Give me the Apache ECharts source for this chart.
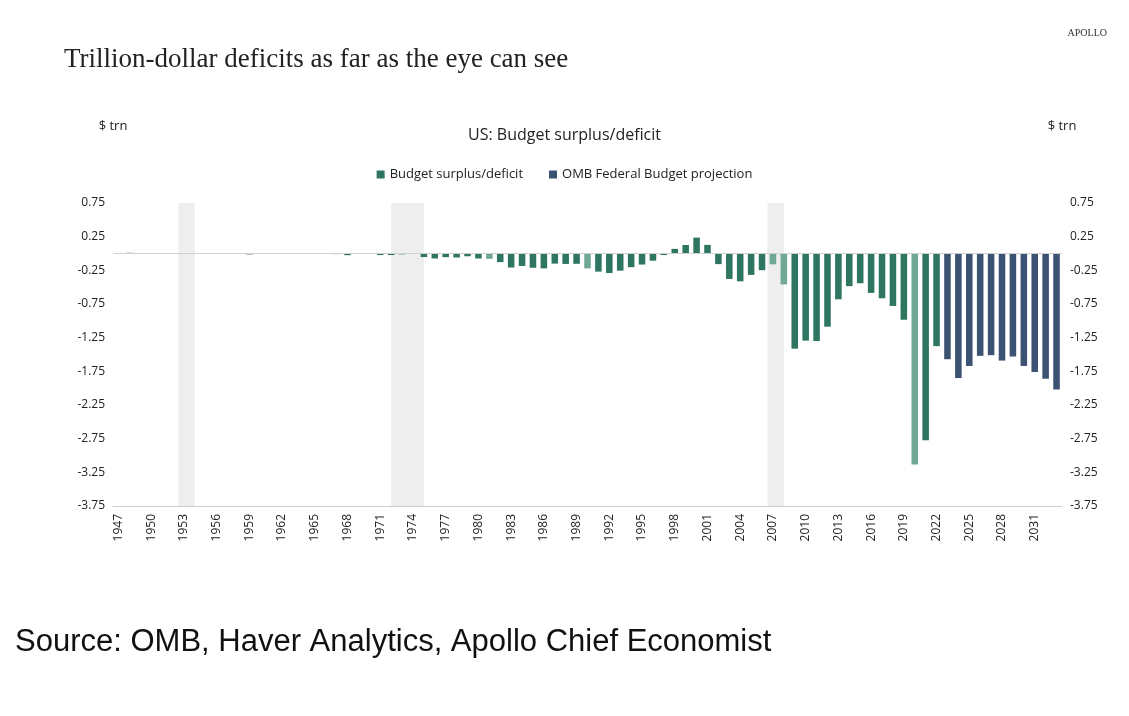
<!DOCTYPE html>
<html><head><meta charset="utf-8">
<script src="https://cdn.jsdelivr.net/npm/echarts@6/dist/echarts.min.js"></script>
<style>body{margin:0;background:#fff}#c{width:1129px;height:716px}</style>
</head><body><div id="c"></div>
<script>
var years=[];for(var y=1947;y<=2033;y++)years.push(String(y));
var actual=[0.004,0.012,0.001,-0.003,0.006,-0.002,-0.007,-0.001,-0.003,0.004,0.003,-0.003,-0.013,0.0003,-0.003,-0.007,-0.005,-0.006,-0.001,-0.004,-0.009,-0.025,0.003,-0.003,-0.023,-0.023,-0.015,-0.006,
 -0.053,-0.074,-0.054,-0.059,-0.041,-0.074,-0.079,-0.128,-0.208,-0.185,-0.212,-0.221,-0.150,-0.155,-0.153,-0.221,-0.269,-0.290,-0.255,-0.203,-0.164,-0.107,-0.022,
 0.069,0.126,0.236,0.128,-0.158,-0.378,-0.413,-0.318,-0.248,-0.161,-0.459,-1.413,-1.294,-1.300,-1.087,-0.680,-0.485,-0.442,-0.585,-0.665,-0.779,-0.984,-3.132,-2.775,-1.376];
var projection=[-1.57,-1.85,-1.67,-1.52,-1.51,-1.59,-1.53,-1.67,-1.76,-1.86,-2.02];
var recessions=[['1948','1948'],['1953','1953'],['1957','1957'],['1960','1960'],['1969','1969'],['1973','1974'],['1981','1981'],['1990','1990'],['2007','2008'],['2020','2020']];
var inRec=function(yr){return recessions.some(function(r){return yr>=+r[0]&&yr<=+r[1];});};
var histData=years.map(function(yr,i){
  if(i>=actual.length)return null;
  return {value:actual[i],itemStyle:{color:inRec(+yr)?'#6fa996':'#2e7562'}};
});
var projData=years.map(function(yr,i){return i<actual.length?null:projection[i-actual.length];});
var font='"Open Sans","Noto Sans",sans-serif';
var yAxis=function(){return {type:'value',min:-3.75,max:0.75,interval:0.5,splitLine:{show:false},
  axisLine:{show:false},axisTick:{show:false},
  name:'$ trn',nameLocation:'end',nameGap:70,nameTextStyle:{color:'#222',fontSize:13,fontFamily:font},
  axisLabel:{color:'#222',fontSize:12,fontFamily:font,formatter:function(v){return v.toFixed(2);}}};};
var chart=echarts.init(document.getElementById('c'));
chart.setOption({
  animation:false,
  graphic:[
    {type:'text',left:64,top:46,style:{text:'Trillion-dollar deficits as far as the eye can see',font:'27px "Liberation Serif",serif',fill:'#222'}},
    {type:'text',right:22,top:28,style:{text:'APOLLO',font:'10px "Liberation Serif",serif',fill:'#333'}},
    {type:'text',left:15,top:627,style:{text:'Source: OMB, Haver Analytics, Apollo Chief Economist',font:'31px "Liberation Sans",Arial,sans-serif',fill:'#111'}}
  ],
  title:{text:'US: Budget surplus/deficit',left:'center',top:122,textStyle:{fontSize:16,fontWeight:'normal',color:'#222',fontFamily:font}},
  legend:{top:163,left:'center',itemWidth:8,itemHeight:8,itemGap:26,icon:'rect',
    textStyle:{fontSize:13,color:'#222',fontFamily:font},
    data:[{name:'Budget surplus/deficit',itemStyle:{color:'#2e7562'}},{name:'OMB Federal Budget projection',itemStyle:{color:'#3b5272'}}]},
  grid:{left:113,right:67,top:203,bottom:210},
  xAxis:{type:'category',data:years,axisTick:{show:false},
    axisLine:{onZero:false,lineStyle:{color:'#ccc'}},
    axisLabel:{rotate:90,interval:2,color:'#222',fontSize:12,fontFamily:font}},
  yAxis:[yAxis(),yAxis()],
  series:[
    {name:'Budget surplus/deficit',type:'bar',data:histData,barWidth:'60%',barGap:'-100%',itemStyle:{color:'#2e7562'},
     markArea:{silent:true,itemStyle:{color:'#eeeeee'},data:recessions.map(function(r){return [{xAxis:years.indexOf(r[0])},{xAxis:years.indexOf(r[1])}];})},
     markLine:{silent:true,symbol:'none',label:{show:false},lineStyle:{color:'#d0d0d0',type:'solid',width:1},data:[{yAxis:0}]}},
    {name:'OMB Federal Budget projection',type:'bar',data:projData,barWidth:'60%',itemStyle:{color:'#3b5272'}}
  ]
});
</script></body></html>
